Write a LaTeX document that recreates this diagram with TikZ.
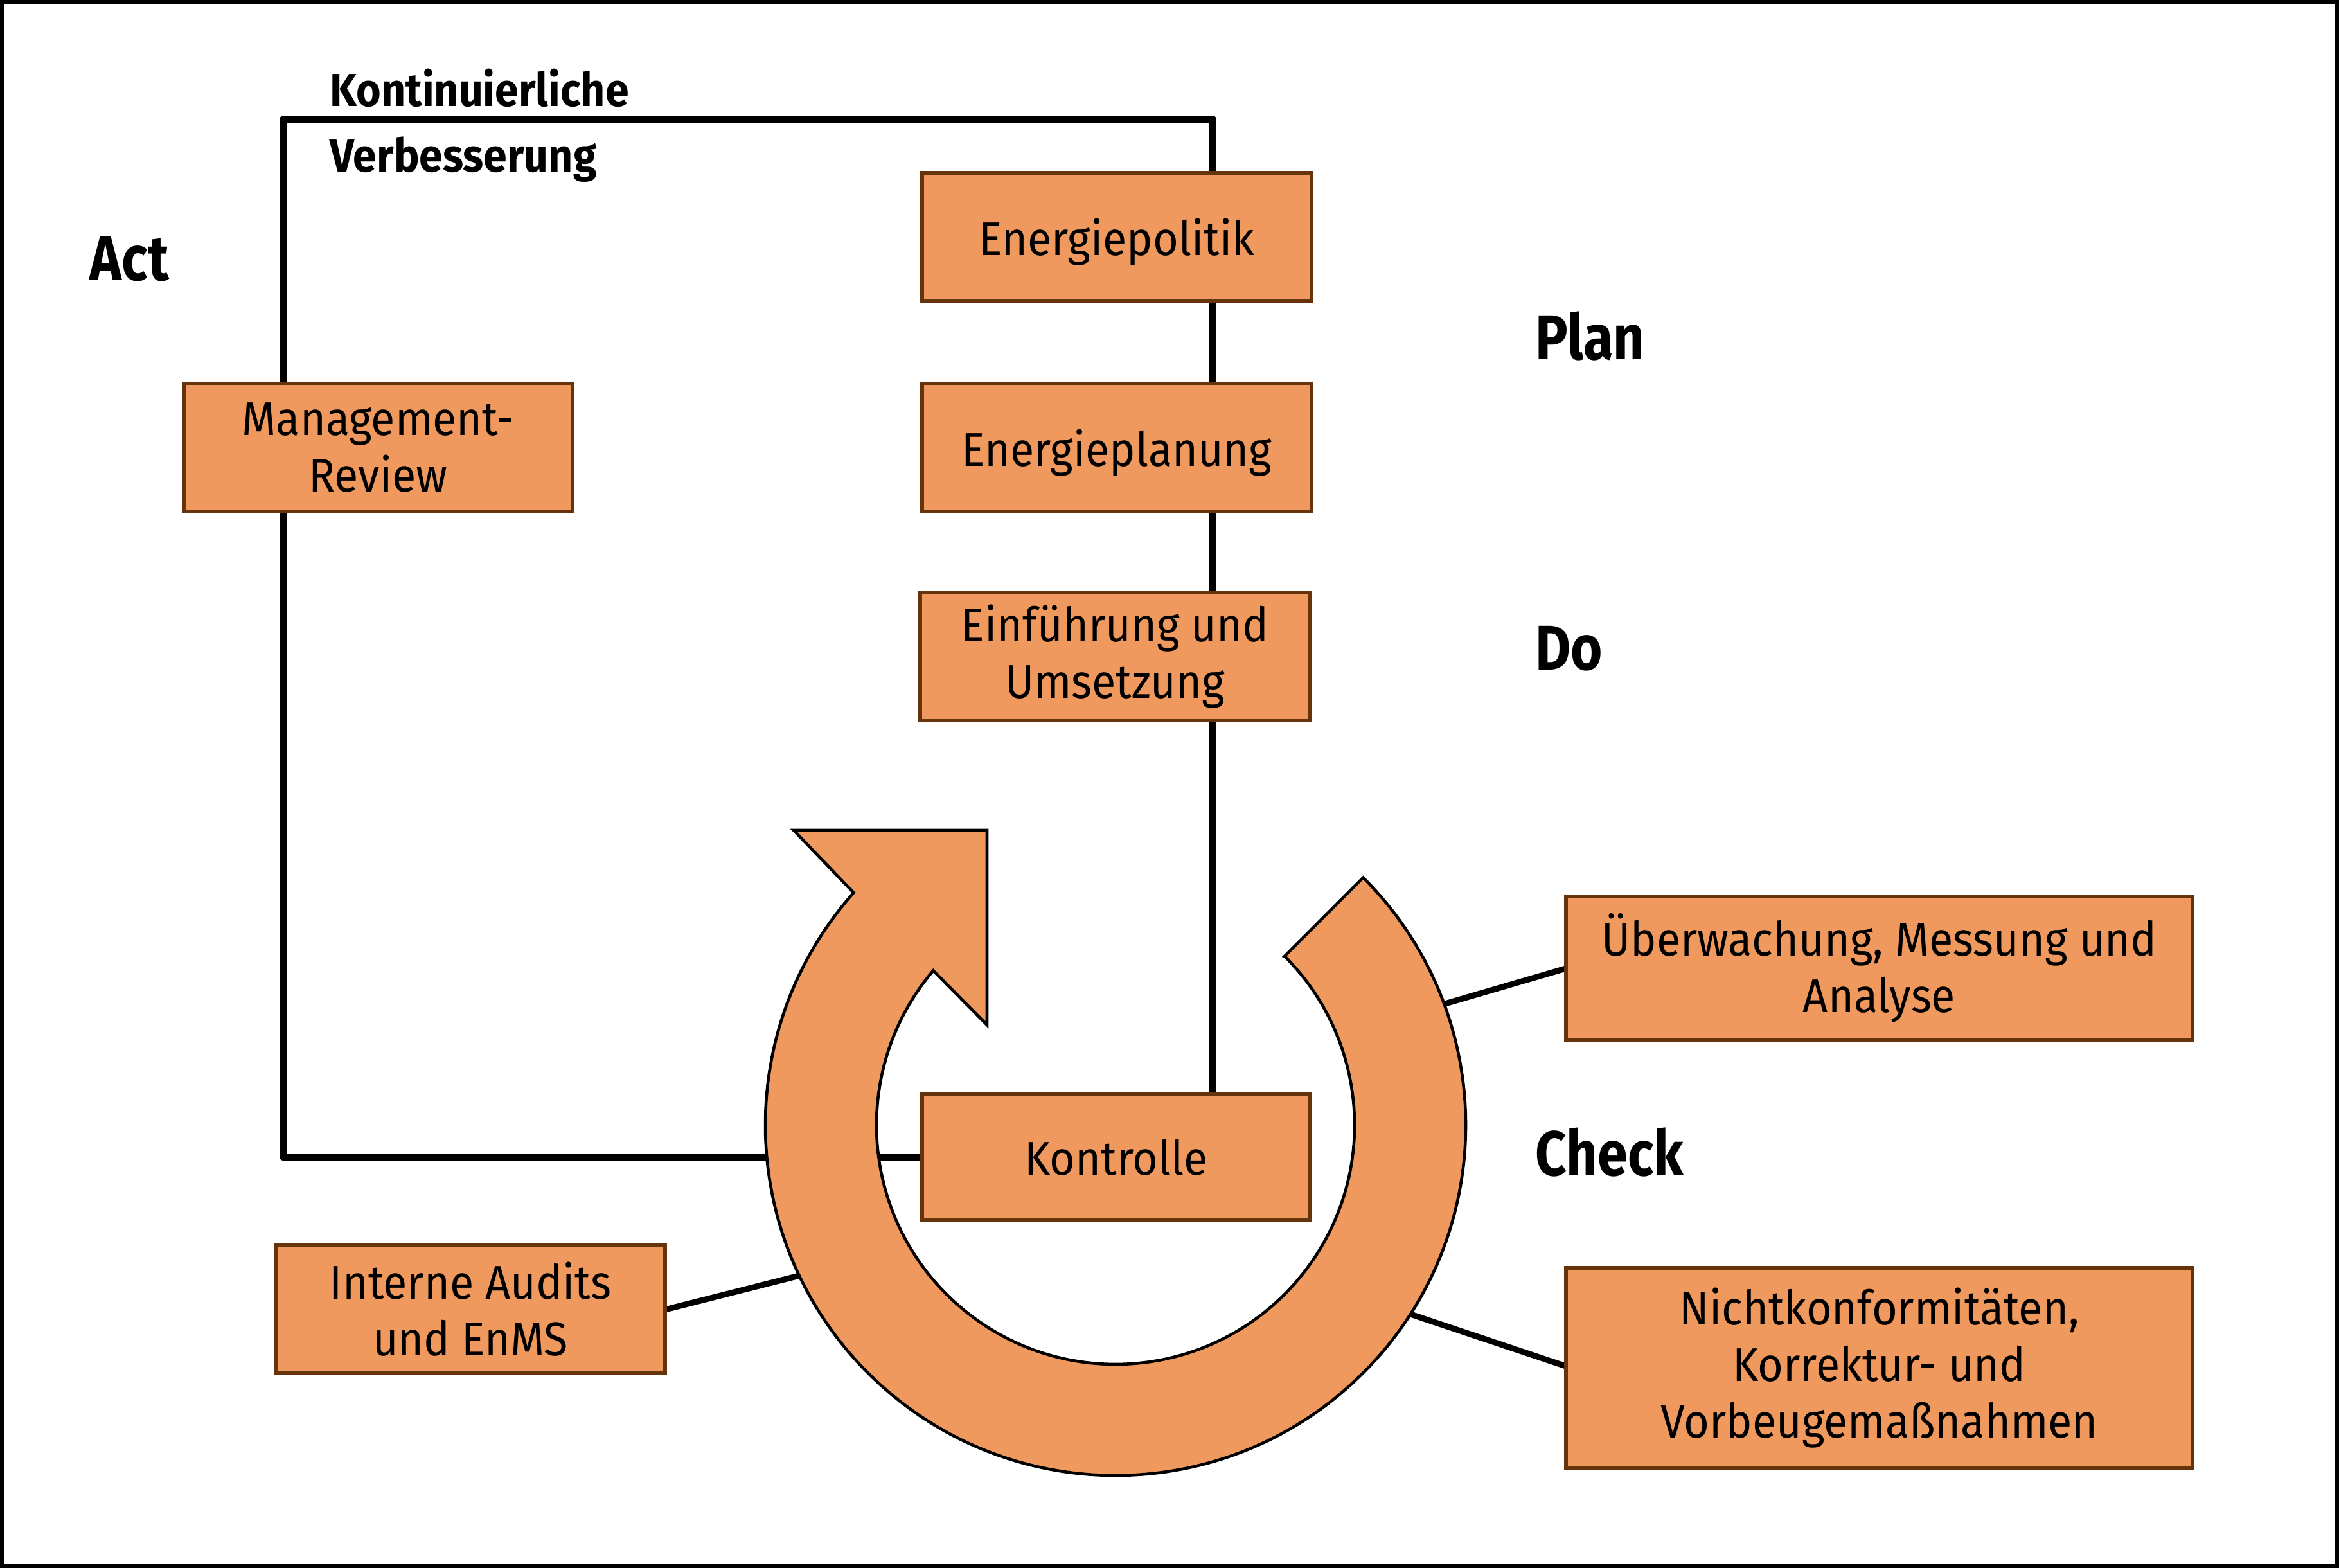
\documentclass[tikz,border=0pt]{standalone}
\usepackage{fontspec}
\setmainfont{Fira Sans}[FakeStretch=0.925]
\newfontfamily\phasefont{Fira Sans}[FakeStretch=0.86]
\newfontfamily\titlefont{Fira Sans}[FakeStretch=0.92]
\usetikzlibrary{calc}
\definecolor{boxfill}{RGB}{240,153,94}
\definecolor{boxline}{RGB}{102,52,12}
\begin{document}
\begin{tikzpicture}[x=1cm,y=1cm,
  box/.style={draw=boxline, line width=1.6pt, fill=boxfill, minimum width=6.06cm, minimum height=2cm, align=center, inner sep=0pt, font=\fontsize{21}{25}\selectfont},
  oneline/.style={text depth=0pt},
  phase/.style={font=\phasefont\bfseries\fontsize{28}{32}\selectfont, anchor=base west, inner sep=0pt},
  title/.style={font=\titlefont\bfseries\fontsize{20.5}{24}\selectfont, anchor=base west, inner sep=0pt},
  loopline/.style={line width=3.4pt, line join=round},
  link/.style={line width=2.6pt},
  ringarrow/.style={draw=black, line width=1.3pt, fill=boxfill, line join=miter}]
\useasboundingbox (0,0) rectangle (36.40,24.40);
\draw[line width=2pt] (0.035,0.035) rectangle (36.365,24.365);

\coordinate (C) at (17.36,6.89);
\coordinate (tl) at (4.41,22.54);
\coordinate (tr) at (18.87,22.54);
\coordinate (uebend) at (22.30,8.725);
\coordinate (nkend) at (21.80,4.00);
\coordinate (iaend) at (12.60,4.59);

% Kontrolle box (inside the ring's hole)
\node[box, oneline, minimum width=6.04cm, minimum height=1.97cm] (kon) at (17.37,6.395) {Kontrolle};

% loop of continual improvement
\draw[loopline] (kon.west) -| (tl) -- (tr) -- (tr |- kon.north);

% links from the side boxes to the ring
\draw[link] (24.37,9.33) coordinate (uebw) -- (uebend);
\draw[link] (24.37,3.14) coordinate (nkw) -- (nkend);
\draw[link] (10.35,4.02) coordinate (iae) -- (iaend);

% ring arrow
\draw[ringarrow] ($(C)+(45:3.72)$) -- ($(C)+(45:5.45)$)
  arc[start angle=45, end angle=-221.6, radius=5.45]
  -- (12.35,11.48) -- (15.36,11.48) -- (15.36,8.45)
  -- ($(C)+(139.7:3.72)$)
  arc[start angle=-220.3, end angle=45, radius=3.72] -- cycle;

% boxes
\node[box, oneline] (pol) at (17.38,20.71) {Energiepolitik};
\node[box, oneline] (plan) at (17.38,17.435) {Energieplanung};
\node[box] (einf) at (17.35,14.185) {Einführung und\\Umsetzung};
\node[box, minimum width=6.05cm] (mr) at (5.885,17.435) {Management-\\Review};
\node[box, minimum height=1.98cm] (ia) at (7.32,4.03) {Interne Audits\\und EnMS};
\node[box, minimum width=9.75cm, minimum height=2.23cm] (ueb) at (29.245,9.335) {Überwachung, Messung und\\Analyse};
\node[box, minimum width=9.75cm, minimum height=3.11cm] (nk) at (29.245,3.115) {Nichtkonformitäten,\\Korrektur- und\\Vorbeugemaßnahmen};

% labels
\node[phase] (act) at (1.39,20.03) {Act};
\node[phase] (planlbl) at (23.89,18.80) {Plan};
\node[phase] (dolbl) at (23.89,13.97) {Do};
\node[phase] (checklbl) at (23.89,6.10) {Check};
\node[title] (kont) at (5.13,22.74) {Kontinuierliche};
\node[title] (verb) at (5.13,21.72) {Verbesserung};
\end{tikzpicture}
\end{document}
